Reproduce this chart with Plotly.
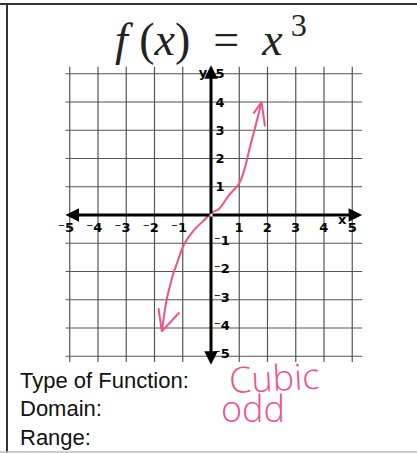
import plotly.graph_objects as go

# grid and axis labels
grid_ticks = [-5, -4, -3, -2, -1, 0, 1, 2, 3, 4, 5]
x_label_vals = [-5, -4, -3, -2, -1, 1, 2, 3, 4]
x_label_text = ["⁻5", "⁻4", "⁻3", "⁻2", "⁻1", "1", "2", "3", "4"]
y_pos_vals = [5, 4, 3, 2, 1]
y_pos_text = ["5", "4", "3", "2", "1"]
y_neg_vals = [-1, -2, -3, -4, -5]
y_neg_text = ["⁻1", "⁻2", "⁻3", "⁻4", "⁻5"]

# hand drawn curve
curve_x = [-1.74, -1.66, -1.57, -1.45, -1.33, -1.2, -1.1, -0.97, -0.62, -0.26,
           0.03, 0.27, 0.62, 1.0, 1.17, 1.38, 1.6, 1.79]
curve_y = [-4.12, -3.55, -3.0, -2.5, -2.06, -1.7, -1.4, -1.07, -0.55, -0.2,
           0.09, 0.2, 0.68, 1.12, 1.57, 2.41, 3.25, 4.0]
head_top_x = [1.5, 1.79, 1.91]
head_top_y = [3.59, 4.0, 3.14]
head_bot_x = [-1.86, -1.74, -1.12]
head_bot_y = [-3.3, -4.12, -3.45]

title_text = "<i>f</i>&nbsp;(<i>x</i>)&nbsp;&nbsp;=&nbsp;&nbsp;<i>x</i><sup>&nbsp;3</sup>"
form_labels = ["Type of Function:", "Domain:", "Range:"]
answers = ["Cubic", "odd"]

PINK = "#ef5189"
GRID = "#555555"
W, H = 417, 453
UNIT = 28.25
OX, OY = 211, 215  # pixel position of the origin

fig = go.Figure()

# grid lines
for t in grid_ticks:
    if t == 0:
        continue
    fig.add_trace(go.Scatter(x=[-5.15, 5.35], y=[t, t], mode="lines",
                             line=dict(color=GRID, width=1.2), hoverinfo="skip"))
    fig.add_trace(go.Scatter(x=[t, t], y=[-5.2, 5.25], mode="lines",
                             line=dict(color=GRID, width=1.2), hoverinfo="skip"))

# axes with arrows
for (x1, y1) in [(5.35, 0), (-5.15, 0), (0, 5.3), (0, -5.3)]:
    fig.add_annotation(x=x1, y=y1, ax=0, ay=0, xref="x", yref="y",
                       axref="x", ayref="y", text="", showarrow=True,
                       arrowhead=2, arrowsize=0.9, arrowwidth=3, arrowcolor="black")

# tick labels
tick_font = dict(family="DejaVu Sans", size=13, color="black", weight="bold")
fig.add_trace(go.Scatter(x=[v + 0.15 for v in x_label_vals], y=[-0.47] * len(x_label_vals),
                         mode="text", text=x_label_text, textposition="middle left",
                         textfont=tick_font))
fig.add_trace(go.Scatter(x=[4.64, 5.0], y=[-0.22, -0.47], mode="text", text=["x", "5"],
                         textfont=tick_font))
fig.add_trace(go.Scatter(x=[0.32] * len(y_pos_vals), y=[v - 0.05 for v in y_pos_vals],
                         mode="text", text=y_pos_text, textfont=tick_font))
fig.add_trace(go.Scatter(x=[0.1] * len(y_neg_vals), y=[v + 0.05 for v in y_neg_vals],
                         mode="text", text=y_neg_text, textposition="middle right",
                         textfont=tick_font))
fig.add_trace(go.Scatter(x=[-0.28], y=[5.0], mode="text", text=["y"], textfont=tick_font))

# the pink curve
fig.add_trace(go.Scatter(x=curve_x, y=curve_y, mode="lines", line=dict(color=PINK, width=2, shape="spline")))
fig.add_trace(go.Scatter(x=head_top_x, y=head_top_y, mode="lines", line=dict(color=PINK, width=2)))
fig.add_trace(go.Scatter(x=head_bot_x, y=head_bot_y, mode="lines", line=dict(color=PINK, width=2)))

# title
fig.add_annotation(text=title_text, x=211 / W, y=1 - 36 / H, xref="paper", yref="paper",
                   xanchor="center", yanchor="middle", showarrow=False,
                   font=dict(family="Liberation Serif", size=46, color="#222"))

# form text
for i, lab in enumerate(form_labels):
    fig.add_annotation(text=lab, x=18 / W, y=1 - (380 + 28.5 * i) / H, xref="paper", yref="paper",
                       xanchor="left", yanchor="middle", showarrow=False,
                       font=dict(family="Liberation Sans", size=22, color="#111"))
fig.add_annotation(text=answers[0], x=226 / W, y=1 - 377 / H, xref="paper", yref="paper",
                   xanchor="left", yanchor="middle", showarrow=False, textangle=-3,
                   font=dict(family="Open Sans", size=36, color=PINK, weight=300))
fig.add_annotation(text=answers[1], x=219 / W, y=1 - 408 / H, xref="paper", yref="paper",
                   xanchor="left", yanchor="middle", showarrow=False,
                   font=dict(family="Open Sans", size=36, color=PINK, weight=300))

# page borders
fig.add_shape(type="line", xref="paper", yref="paper", x0=0, x1=1, y0=1 - 4 / H, y1=1 - 4 / H,
              line=dict(color="#333", width=2))
fig.add_shape(type="line", xref="paper", yref="paper", x0=7 / W, x1=7 / W, y0=0, y1=1 - 4 / H,
              line=dict(color="#333", width=2))
fig.add_shape(type="line", xref="paper", yref="paper", x0=0, x1=1, y0=1 / H, y1=1 / H,
              line=dict(color="#bbb", width=1.5))

fig.update_xaxes(range=[-OX / UNIT, (W - OX) / UNIT], visible=False, fixedrange=True)
fig.update_yaxes(range=[-(H - OY) / UNIT, OY / UNIT], visible=False, fixedrange=True)
fig.update_layout(width=W, height=H, margin=dict(l=0, r=0, t=0, b=0),
                  showlegend=False, plot_bgcolor="white", paper_bgcolor="white")

# drop the default page margin so the figure sits at the window corner
fig.write_html("out.html", config={"displayModeBar": False},
               post_script="document.body.style.margin='0';")
